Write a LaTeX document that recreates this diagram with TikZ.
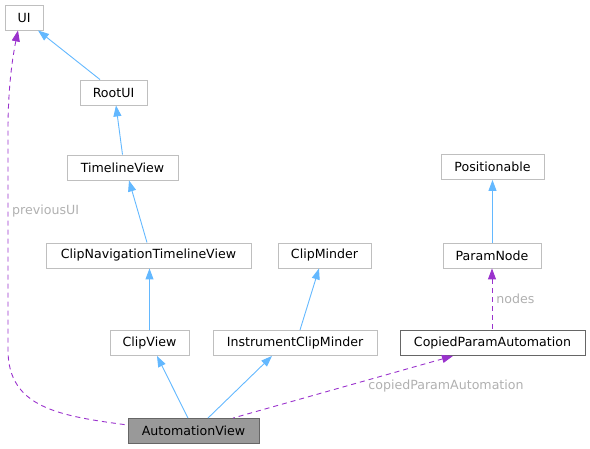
\documentclass[tikz,border=0pt]{standalone}
\usepackage{fontspec}
\setmainfont{DejaVu Sans}
\usetikzlibrary{arrows.meta,calc}
\definecolor{edgeblue}{HTML}{63B8FF}
\definecolor{edgepurple}{HTML}{9A32CD}
\definecolor{boxgray}{HTML}{BFBFBF}
\definecolor{labelgray}{HTML}{B0B0B0}
\tikzset{
  cls/.style={draw=boxgray, line width=0.9pt, fill=white, minimum height=25pt, inner sep=0pt, font=\fontsize{12.6}{14}\selectfont, text=black},
  focus/.style={cls, draw=black!60, fill=black!40},
  strong/.style={cls, draw=black!60},
  inh/.style={edgeblue, line width=0.9pt, {Triangle[length=11pt,width=8pt]}-},
  use/.style={edgepurple, line width=0.9pt, dash pattern=on 5pt off 4pt, {Triangle[length=11pt,width=8pt]}-},
  elabel/.style={text=labelgray, font=\fontsize{12.6}{14}\selectfont, inner sep=0pt}
}
\begin{document}
\begin{tikzpicture}[x=1pt,y=-1pt]
\useasboundingbox (0,0) rectangle (590,449);
\node[cls, minimum width=38pt] (UI) at (24,17.5) {UI};
\node[cls, minimum width=67pt] (RootUI) at (113.5,92.5) {RootUI};
\node[cls, minimum width=111pt] (TV) at (122.5,167.5) {TimelineView};
\node[cls, minimum width=205pt] (CNTV) at (148.5,255.5) {ClipNavigationTimelineView};
\node[cls, minimum width=93pt] (CM) at (324.5,255.5) {ClipMinder};
\node[cls, minimum width=79pt] (CV) at (149.5,343) {ClipView};
\node[cls, minimum width=164pt] (ICM) at (295,343) {InstrumentClipMinder};
\node[focus, minimum width=131pt] (AV) at (193.5,431) {AutomationView};
\node[cls, minimum width=103pt] (Pos) at (492.5,167) {Positionable};
\node[cls, minimum width=98pt] (PN) at (492,255.5) {ParamNode};
\node[strong, minimum width=185pt] (CPA) at (492.5,343) {CopiedParamAutomation};

\draw[inh] ([xshift=14pt]UI.south) -- ([xshift=-13.5pt]RootUI.north);
\draw[inh] ([xshift=2.5pt]RootUI.south) -- (TV.north);
\draw[inh] ([xshift=6.5pt]TV.south) -- ([xshift=-1.5pt]CNTV.north);
\draw[inh] (CNTV.south -| CV.north) -- (CV.north);
\draw[inh] ([xshift=-5.5pt]CM.south) -- ([xshift=5pt]ICM.north);
\draw[inh] ([xshift=7.5pt]CV.south) -- ([xshift=-5.5pt]AV.north);
\draw[inh] ([xshift=-23pt]ICM.south) -- ([xshift=14.5pt]AV.north);
\draw[inh] (Pos.south) -- (Pos.south |- PN.north);

\draw[use] (PN.south) -- (PN.south |- CPA.north) node[elabel, anchor=west, pos=0.5, xshift=4pt] {nodes};
\draw[use] ([xshift=-39.5pt]CPA.south) -- ([xshift=39.5pt]AV.north);
\node[elabel] (l2) at (446,386) {copiedParamAutomation};
\draw[use] ([xshift=-6pt]UI.south) .. controls (12,60) and (8,90) .. (8,130) -- (8,350) .. controls (8,408) and (60,416) .. ([yshift=6pt]AV.west);
\node[elabel, anchor=west] (l1) at (12,211) {previousUI};
\end{tikzpicture}
\end{document}
